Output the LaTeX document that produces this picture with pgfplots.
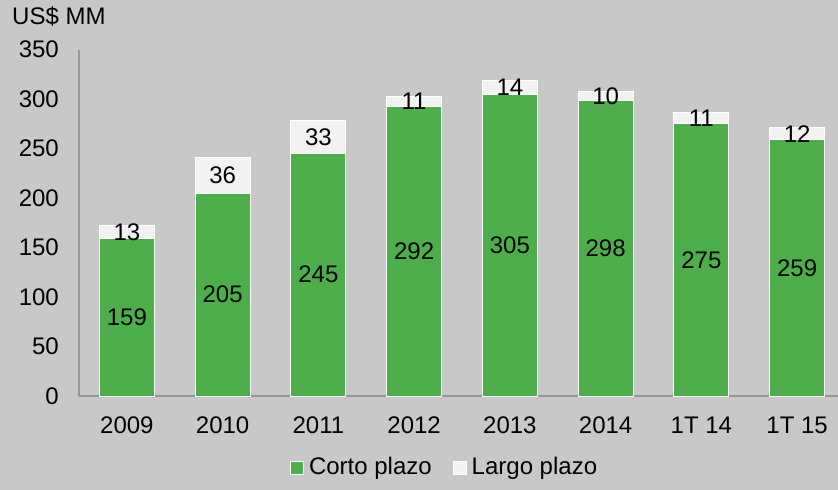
\documentclass[border=0pt]{standalone}
\usepackage{pgfplots}
\pgfplotsset{compat=1.18}
\usepackage{fontspec}
\setmainfont{Liberation Sans}
\definecolor{bggray}{HTML}{C8C8C8}
\definecolor{cgreen}{HTML}{4CAF4A}
\definecolor{clight}{HTML}{F2F2F2}
\definecolor{axgray}{HTML}{979797}
\begin{document}
\fontsize{24bp}{29bp}\selectfont
\begin{tikzpicture}
\useasboundingbox (-79bp,-94bp) rectangle (759bp,396bp);
\fill[bggray] (-79bp,-94bp) rectangle (759bp,396bp);
\begin{axis}[
  at={(0,0)}, anchor=south west,
  scale only axis, width=759bp, height=346.5bp,
  xmin=-0.5, xmax=7.427, ymin=0, ymax=350,
  ybar stacked, bar width=55bp,
  axis x line*=bottom, axis y line*=left,
  axis line style={draw=axgray, line width=1.2bp},
  xtick=data, xticklabels={2009,2010,2011,2012,2013,2014,1T 14,1T 15},
  ytick={0,50,...,350},
  major tick length=0pt,
  /pgf/number format/assume math mode=true,
  xticklabel style={anchor=base, inner sep=0pt, yshift=-37bp},
  yticklabel style={anchor=east, inner sep=0pt, xshift=-20bp},
  legend columns=2,
  legend style={at={(0.481,-0.207)}, anchor=center, draw=none, fill=none,
    /tikz/every odd column/.append style={column sep=4bp},
    /tikz/every even column/.append style={column sep=20bp},
    nodes={inner sep=1bp}},
  legend image code/.code={\draw[#1, line width=1bp] (0bp,-6.5bp) rectangle (13bp,6.5bp);},
]
\addplot[fill=cgreen, draw=white, line width=1bp] coordinates {(0,159) (1,205) (2,245) (3,292) (4,305) (5,298) (6,275) (7,259)};
\addlegendentry{Corto plazo}
\addplot[fill=clight, draw=white, line width=1bp] coordinates {(0,13) (1,36) (2,33) (3,11) (4,14) (5,10) (6,11) (7,12)};
\addlegendentry{Largo plazo}
\end{axis}
\begin{axis}[
  at={(0,0)}, anchor=south west,
  scale only axis, width=759bp, height=346.5bp,
  xmin=-0.5, xmax=7.427, ymin=0, ymax=350,
  hide axis, clip=false,
]
\addplot[draw=none, mark=none, nodes near coords={\pgfplotspointmeta}, point meta=explicit symbolic,
  every node near coord/.style={anchor=center, inner sep=0pt, text=black}]
  table[x=x, y=y, meta=l] {
x y l
0 79.5 159
1 102.5 205
2 122.5 245
3 146 292
4 152.5 305
5 149 298
6 137.5 275
7 129.5 259
};
\addplot[draw=none, mark=none, nodes near coords={\pgfplotspointmeta}, point meta=explicit symbolic,
  every node near coord/.style={anchor=center, inner sep=0pt, text=black}]
  table[x=x, y=y, meta=l] {
x y l
0 165.5 13
1 223 36
2 261.5 33
3 297.5 11
4 312 14
5 303 10
6 280.5 11
7 265 12
};
\end{axis}
\node[anchor=base west, inner sep=0pt] at (-67bp,371bp) {US\$ MM};
\end{tikzpicture}
\end{document}
